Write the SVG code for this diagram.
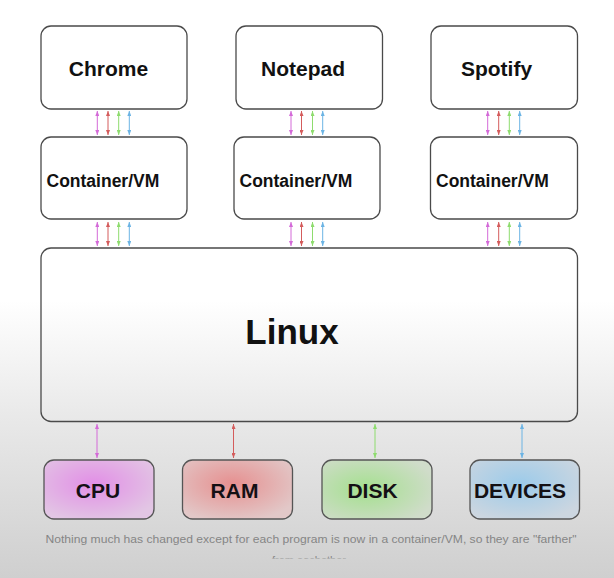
<svg xmlns="http://www.w3.org/2000/svg" width="614" height="578" viewBox="0 0 614 578">
  <defs>
    <linearGradient id="bg" x1="0" y1="0" x2="0" y2="1">
      <stop offset="0" stop-color="#ffffff"/>
      <stop offset="0.52" stop-color="#ffffff"/>
      <stop offset="0.72" stop-color="#e9e9e9"/>
      <stop offset="1" stop-color="#cfcfcf"/>
    </linearGradient>
    <radialGradient id="gCpu" cx="0.45" cy="0.4" r="0.65">
      <stop offset="0" stop-color="#e28fe6"/>
      <stop offset="1" stop-color="#e2c6e4"/>
    </radialGradient>
    <radialGradient id="gRam" cx="0.45" cy="0.4" r="0.65">
      <stop offset="0" stop-color="#e69090"/>
      <stop offset="1" stop-color="#e2c8c8"/>
    </radialGradient>
    <radialGradient id="gDisk" cx="0.4" cy="0.5" r="0.65">
      <stop offset="0" stop-color="#a4e08e"/>
      <stop offset="1" stop-color="#d0dcca"/>
    </radialGradient>
    <radialGradient id="gDev" cx="0.45" cy="0.4" r="0.65">
      <stop offset="0" stop-color="#9ccbea"/>
      <stop offset="1" stop-color="#ccd6e0"/>
    </radialGradient>
    <marker id="mP" viewBox="0 0 5 4" refX="5" refY="2" markerWidth="5" markerHeight="4" markerUnits="userSpaceOnUse" orient="auto-start-reverse"><path d="M0,0 L5,2 L0,4 z" fill="#d46ad8"/></marker>
    <marker id="mR" viewBox="0 0 5 4" refX="5" refY="2" markerWidth="5" markerHeight="4" markerUnits="userSpaceOnUse" orient="auto-start-reverse"><path d="M0,0 L5,2 L0,4 z" fill="#d45c5c"/></marker>
    <marker id="mG" viewBox="0 0 5 4" refX="5" refY="2" markerWidth="5" markerHeight="4" markerUnits="userSpaceOnUse" orient="auto-start-reverse"><path d="M0,0 L5,2 L0,4 z" fill="#8edc6e"/></marker>
    <marker id="mB" viewBox="0 0 5 4" refX="5" refY="2" markerWidth="5" markerHeight="4" markerUnits="userSpaceOnUse" orient="auto-start-reverse"><path d="M0,0 L5,2 L0,4 z" fill="#6cb4e4"/></marker>
    <clipPath id="capClip"><rect x="0" y="0" width="614" height="558.5"/></clipPath>
  </defs>
  <style>
    .box { fill: none; stroke: #4a4a4a; stroke-width: 1.3; }
    .res { stroke: #555555; stroke-width: 1.3; }
    .t { font-family: "Liberation Sans", Arial, Helvetica, sans-serif; font-weight: bold; fill: #111111; }
    .app { font-size: 21px; text-anchor: middle; }
    .cvm { font-size: 17.5px; }
    .big { font-size: 35px; text-anchor: middle; }
    .rt { font-size: 21px; text-anchor: middle; fill: #141014; }
    .cap { font-family: "Liberation Sans", Arial, Helvetica, sans-serif; font-size: 11px; fill: #858585; }
    .a { stroke-width: 1; fill: none; }
    .p { stroke: #d46ad8; marker-start: url(#mP); marker-end: url(#mP); }
    .r { stroke: #d45c5c; marker-start: url(#mR); marker-end: url(#mR); }
    .g { stroke: #8edc6e; marker-start: url(#mG); marker-end: url(#mG); }
    .b { stroke: #6cb4e4; marker-start: url(#mB); marker-end: url(#mB); }
  </style>

  <rect x="0" y="0" width="614" height="578" fill="url(#bg)"/>

  <g id="chrome">
    <rect class="box" x="41" y="26" width="146" height="83" rx="10"/>
    <text class="t app" x="108.5" y="75.5">Chrome</text>
  </g>
  <g id="notepad">
    <rect class="box" x="236" y="26" width="146.5" height="83" rx="10"/>
    <text class="t app" x="303" y="75.5">Notepad</text>
  </g>
  <g id="spotify">
    <rect class="box" x="431" y="26" width="146.5" height="83" rx="10"/>
    <text class="t app" x="496.5" y="75.5">Spotify</text>
  </g>

  <g id="vm1">
    <rect class="box" x="41" y="137" width="146" height="82" rx="10"/>
    <text class="t cvm" x="46.5" y="186.5">Container/VM</text>
  </g>
  <g id="vm2">
    <rect class="box" x="234" y="137" width="146" height="82" rx="10"/>
    <text class="t cvm" x="239.5" y="186.5">Container/VM</text>
  </g>
  <g id="vm3">
    <rect class="box" x="430.5" y="137" width="147" height="82" rx="10"/>
    <text class="t cvm" x="436" y="186.5">Container/VM</text>
  </g>

  <g id="linux">
    <rect class="box" x="41" y="248" width="536.5" height="173.5" rx="10"/>
    <text class="t big" x="292" y="344">Linux</text>
  </g>

  <g id="cpu">
    <rect class="res" x="44" y="460" width="110" height="59" rx="10" fill="url(#gCpu)"/>
    <text class="t rt" x="98" y="497.5">CPU</text>
  </g>
  <g id="ram">
    <rect class="res" x="182.5" y="460" width="110" height="59" rx="10" fill="url(#gRam)"/>
    <text class="t rt" x="234.5" y="497.5">RAM</text>
  </g>
  <g id="disk">
    <rect class="res" x="322" y="460" width="110" height="59" rx="10" fill="url(#gDisk)"/>
    <text class="t rt" x="372.5" y="497.5">DISK</text>
  </g>
  <g id="devices">
    <rect class="res" x="470" y="460" width="109.5" height="59" rx="10" fill="url(#gDev)"/>
    <text class="t rt" x="520" y="497.5">DEVICES</text>
  </g>

  <g id="connectors">
    <!-- apps to containers -->
    <line class="a p" x1="97.3" y1="111" x2="97.3" y2="135"/>
    <line class="a r" x1="108" y1="111" x2="108" y2="135"/>
    <line class="a g" x1="118.7" y1="111" x2="118.7" y2="135"/>
    <line class="a b" x1="129.3" y1="111" x2="129.3" y2="135"/>

    <line class="a p" x1="291" y1="111" x2="291" y2="135"/>
    <line class="a r" x1="301.5" y1="111" x2="301.5" y2="135"/>
    <line class="a g" x1="312.5" y1="111" x2="312.5" y2="135"/>
    <line class="a b" x1="322.7" y1="111" x2="322.7" y2="135"/>

    <line class="a p" x1="487.7" y1="111" x2="487.7" y2="135"/>
    <line class="a r" x1="498.7" y1="111" x2="498.7" y2="135"/>
    <line class="a g" x1="509.3" y1="111" x2="509.3" y2="135"/>
    <line class="a b" x1="519.7" y1="111" x2="519.7" y2="135"/>

    <!-- containers to linux -->
    <line class="a p" x1="97.3" y1="222" x2="97.3" y2="246"/>
    <line class="a r" x1="108" y1="222" x2="108" y2="246"/>
    <line class="a g" x1="118.7" y1="222" x2="118.7" y2="246"/>
    <line class="a b" x1="129.3" y1="222" x2="129.3" y2="246"/>

    <line class="a p" x1="291" y1="222" x2="291" y2="246"/>
    <line class="a r" x1="301.5" y1="222" x2="301.5" y2="246"/>
    <line class="a g" x1="312.5" y1="222" x2="312.5" y2="246"/>
    <line class="a b" x1="322.7" y1="222" x2="322.7" y2="246"/>

    <line class="a p" x1="487.7" y1="222" x2="487.7" y2="246"/>
    <line class="a r" x1="498.7" y1="222" x2="498.7" y2="246"/>
    <line class="a g" x1="509.3" y1="222" x2="509.3" y2="246"/>
    <line class="a b" x1="519.7" y1="222" x2="519.7" y2="246"/>

    <!-- linux to hardware -->
    <line class="a p" x1="97" y1="424" x2="97" y2="458"/>
    <line class="a r" x1="233.5" y1="424" x2="233.5" y2="458"/>
    <line class="a g" x1="375" y1="424" x2="375" y2="458"/>
    <line class="a b" x1="522" y1="424" x2="522" y2="458"/>
  </g>

  <g id="caption">
    <text class="cap" x="45.5" y="543" textLength="531" lengthAdjust="spacingAndGlyphs">Nothing much has changed except for each program is now in a container/VM, so they are "farther"</text>
    <text class="cap" x="309" y="564" text-anchor="middle" clip-path="url(#capClip)">from eachother</text>
  </g>
</svg>
